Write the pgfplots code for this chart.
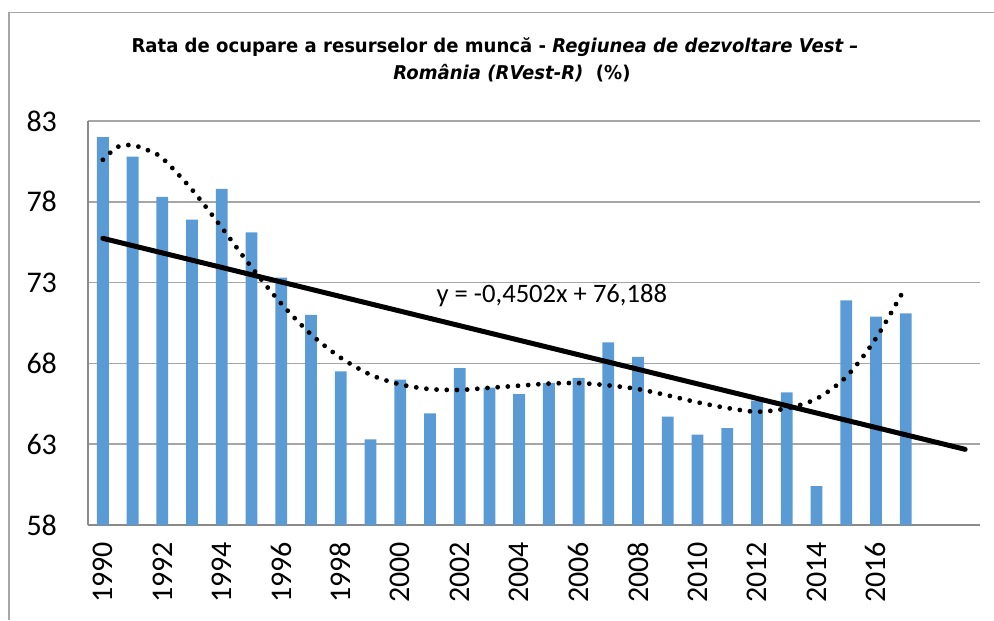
\documentclass[border=0pt]{standalone}
\usepackage{fontspec}
\setmainfont{Carlito}
\newfontfamily\titlefont{DejaVu Sans}[FakeStretch=0.95]
\usepackage{pgfplots}
\pgfplotsset{compat=1.18}
\definecolor{barblue}{HTML}{5B9BD5}
\definecolor{gridgray}{HTML}{A6A6A6}
\definecolor{axisgray}{HTML}{8A8A8A}
\begin{document}
\begin{tikzpicture}[x=1pt,y=1pt]
\useasboundingbox (0,0) rectangle (497,310);
\draw[gridgray, line width=0.8pt] (4.6,0) -- (4.6,303.8) -- (497,303.8);
\node[anchor=base, font=\titlefont\bfseries\fontsize{9.5}{11}\selectfont] at (247.5,283.5)
  {Rata de ocupare a resurselor de muncă - \textit{Regiunea de dezvoltare Vest –}};
\node[anchor=base, font=\titlefont\bfseries\fontsize{9.5}{11}\selectfont] at (256,270)
  {\textit{România (RVest-R)}\ \ (\%)};
\begin{axis}[
  at={(44pt,47.5pt)}, anchor=south west, scale only axis,
  width=446pt, height=202pt,
  xmin=-0.5, xmax=29.5, ymin=58, ymax=83,
  ytick={58,63,68,73,78,83},
  xtick={0,2,4,6,8,10,12,14,16,18,20,22,24,26},
  xticklabels={1990,1992,1994,1996,1998,2000,2002,2004,2006,2008,2010,2012,2014,2016},
  axis x line*=bottom, axis y line*=left,
  axis line style={axisgray, line width=1pt, -},
  ymajorgrids, grid style={gridgray, line width=0.75pt},
  major tick length=0pt,
  tick label style={font=\fontsize{15}{18}\selectfont, text=black},
  /pgf/number format/assume math mode=true,
  xticklabel style={rotate=90, anchor=east},
  xticklabel shift=5pt,
  yticklabel shift=12pt,
  clip=false,
]
\addplot[ybar, bar width=5.9pt, bar shift=0pt, fill=barblue, draw=none] coordinates {
 (0,82.0) (1,80.8) (2,78.3) (3,76.9) (4,78.8) (5,76.1) (6,73.3) (7,71.0)
 (8,67.5) (9,63.3) (10,67.0) (11,64.9) (12,67.7) (13,66.5) (14,66.1) (15,66.8)
 (16,67.1) (17,69.3) (18,68.4) (19,64.7) (20,63.6) (21,64.0) (22,65.7) (23,66.2)
 (24,60.4) (25,71.9) (26,70.9) (27,71.1)
};
\addplot[black, line width=2.5pt, line cap=round] coordinates {(0,75.738) (29,62.682)};
\addplot[black, smooth, line width=2.4pt, line cap=round, dash pattern=on 0pt off 5.1pt] coordinates {
 (0,80.6) (0.5,81.4) (1,81.5) (1.5,81.2) (2,80.7) (3,78.75) (4,76.4) (5,73.95)
 (6,71.7) (7,69.8) (8,68.35) (9,67.3) (10,66.7) (11,66.41) (12,66.36) (13,66.49)
 (14,66.62) (15,66.75) (16,66.78) (17,66.64) (18,66.41) (19,66.02) (20,65.59)
 (21,65.24) (22,65.01) (23,65.22) (24,65.81) (25,67.17) (26,69.55) (27,72.74)
};
\node[font=\fontsize{13.3}{16}\selectfont] at (axis cs:15.1,72.2) {y = -0,4502x + 76,188};
\end{axis}
\end{tikzpicture}
\end{document}
